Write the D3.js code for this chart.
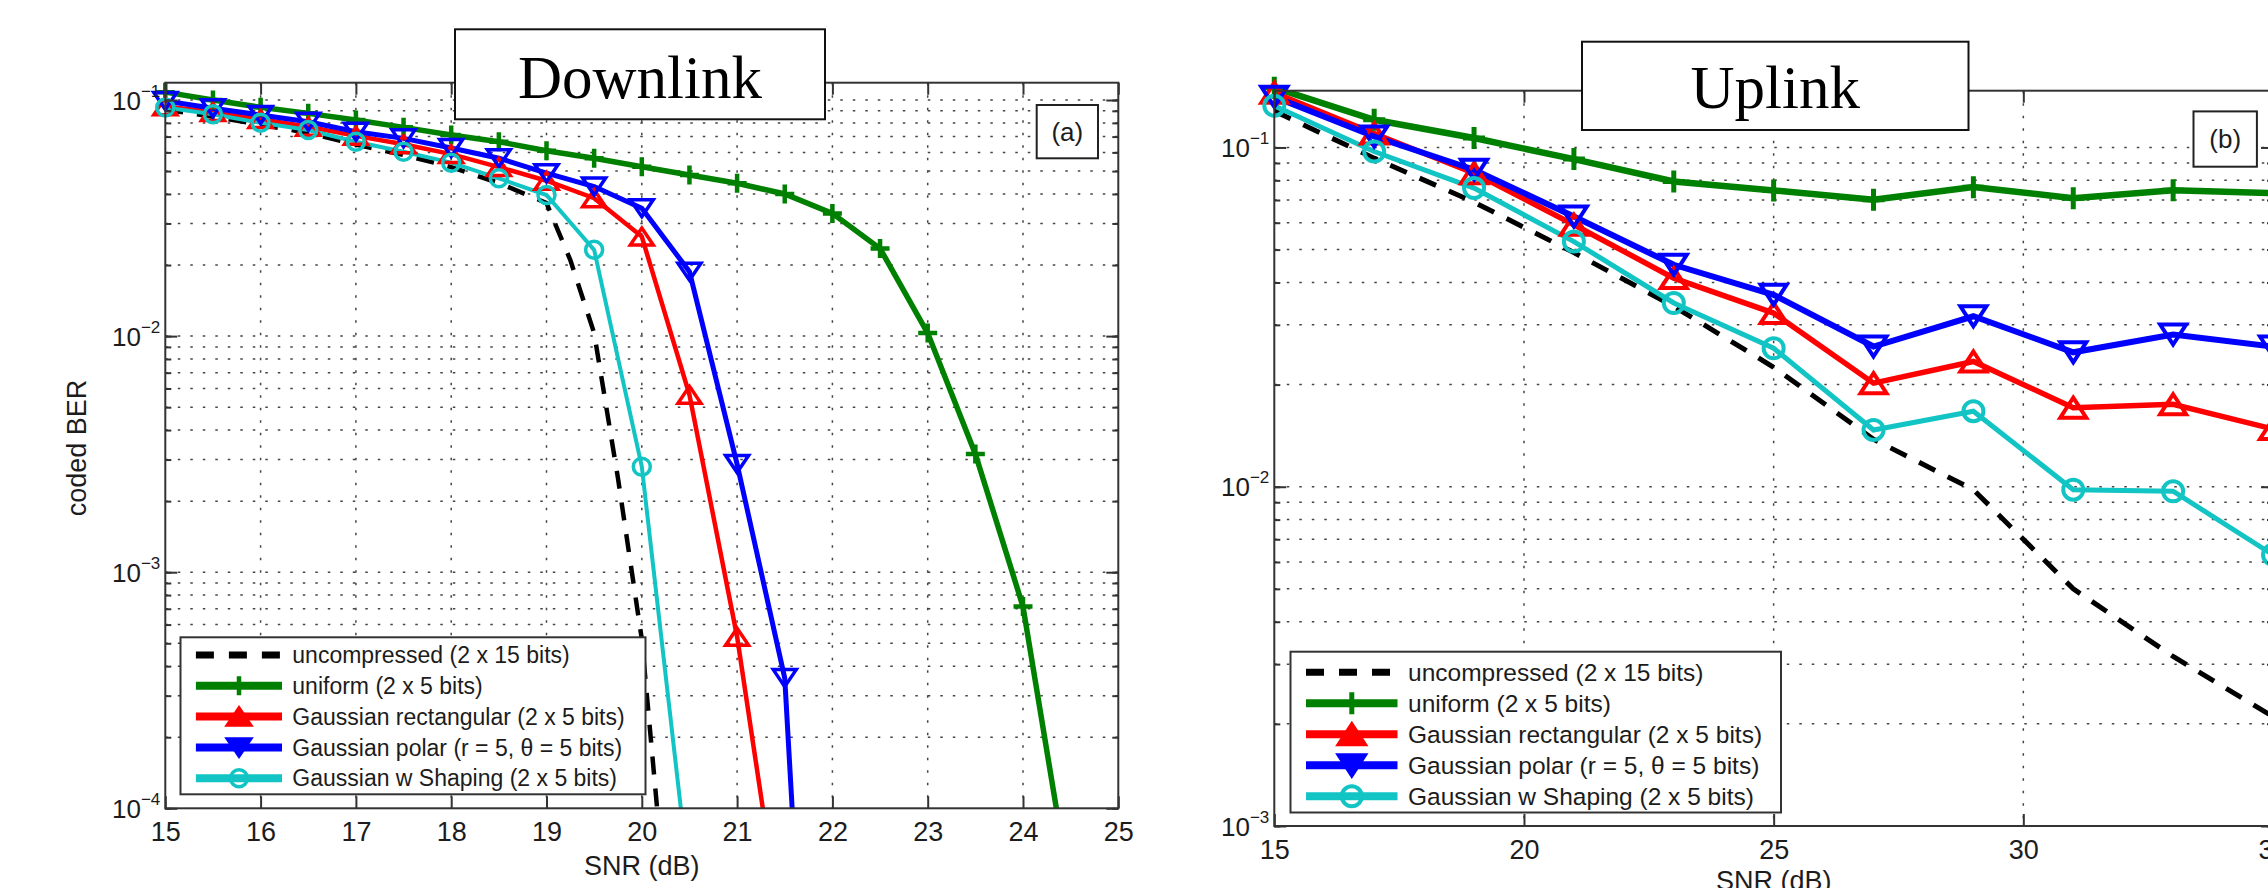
<!DOCTYPE html>
<html lang="en">
<head>
<meta charset="UTF-8">
<title>coded BER - downlink / uplink</title>
<style>
  html, body { margin: 0; padding: 0; background: #fff; overflow: hidden; }
  svg { display: block; }
  text { font-family: "Liberation Sans", Arial, Helvetica, sans-serif; fill: #1c1c1c; }
  text.title { font-family: "Liberation Serif", "Times New Roman", serif; fill: #000; }
</style>
</head>
<body>
<script src="https://d3js.org/d3.v7.min.js"></script>
<script>
// legend names, same order for both panels
var names = ["uncompressed (2 x 15 bits)", "uniform (2 x 5 bits)", "Gaussian rectangular (2 x 5 bits)",
             "Gaussian polar (r = 5, \u03b8 = 5 bits)", "Gaussian w Shaping (2 x 5 bits)"];

// (a) downlink, SNR in dB
var dlSnr = [15, 15.5, 16, 16.5, 17, 17.5, 18, 18.5, 19, 19.5, 20, 20.5, 21, 21.5, 22, 22.5, 23, 23.5, 24, 24.5];
var dlRefSnr = [15, 15.5, 16, 16.5, 17, 17.5, 18, 18.5, 19, 19.25, 19.5, 19.75, 20, 20.25];
var dlUncompressed = [0.091, 0.085, 0.0785, 0.0725, 0.0648, 0.0585, 0.052, 0.0445, 0.0366, 0.021, 0.0103, 0.0025, 0.00052, 0.00004];
var dlUniform = [0.108, 0.100, 0.0931, 0.0878, 0.0823, 0.0766, 0.0711, 0.0666, 0.0610, 0.0567, 0.0522, 0.0481, 0.0444, 0.0400, 0.0331, 0.0235, 0.0103, 0.00317, 0.000715, 0.000043];
var dlRect = [0.094, 0.089, 0.083, 0.077, 0.0705, 0.065, 0.059, 0.052, 0.0455, 0.0384, 0.0264, 0.00564, 0.000533, 0.000024];
var dlPolar = [0.099, 0.0922, 0.0864, 0.0809, 0.0734, 0.0688, 0.0626, 0.0567, 0.049, 0.043, 0.0348, 0.01875, 0.00287, 0.000356, 0.0000001];
var dlShaping = [0.093, 0.087, 0.0801, 0.0746, 0.0666, 0.0604, 0.0543, 0.0466, 0.0396, 0.0232, 0.0028, 0.000048];
var dlTicks = [15, 16, 17, 18, 19, 20, 21, 22, 23, 24, 25];

// (b) uplink
var ulSnr = [15, 17, 19, 21, 23, 25, 27, 29, 31, 33, 35];
var ulUncompressed = [0.128, 0.093, 0.069, 0.049, 0.034, 0.0225, 0.0138, 0.0098, 0.0050, 0.00316, 0.0021];
var ulUniform = [0.150, 0.1207, 0.1066, 0.0924, 0.0794, 0.0747, 0.0701, 0.0764, 0.0709, 0.0748, 0.0734];
var ulRect = [0.145, 0.110, 0.084, 0.0592, 0.0412, 0.0325, 0.0202, 0.0234, 0.0171, 0.0175, 0.0148];
var ulPolar = [0.141, 0.1077, 0.086, 0.0626, 0.0451, 0.0368, 0.0259, 0.0318, 0.0249, 0.0281, 0.0259];
var ulShaping = [0.1328, 0.0973, 0.0759, 0.0528, 0.0348, 0.0256, 0.0147, 0.0167, 0.0098, 0.0097, 0.0063];
var ulTicks = [15, 20, 25, 30, 35];

var width = 2268, height = 888;
var svg = d3.select("body").append("svg").attr("width", width).attr("height", height);

var colors = ["#000000", "#008000", "#ff0000", "#0000ff", "#12c4c4"];
var markers = [null, "plus", "up", "down", "circle"];

function zip(xs, ys) {
    var out = [];
    for (var i = 0; i < Math.min(xs.length, ys.length); i++) out.push([xs[i], ys[i]]);
    return out;
}

function logTicks(dom, majorOnly) {
    var t = [];
    for (var e = Math.floor(Math.log10(dom[0])); e <= Math.ceil(Math.log10(dom[1])); e++) {
        for (var m = 1; m <= 9; m++) {
            if (majorOnly && m > 1) continue;
            var v = m * Math.pow(10, e);
            if (v >= dom[0] * 0.999 && v <= dom[1]) t.push(v);
        }
    }
    return t;
}

function drawMarker(g, type, cx, cy, color, s, filled) {
    if (type == "plus") {
        g.append("path").attr("d", "M" + (cx - s.p) + "," + cy + "H" + (cx + s.p) + "M" + cx + "," + (cy - s.p) + "V" + (cy + s.p))
            .attr("stroke", color).attr("stroke-width", s.psw).attr("fill", "none");
    } else if (type == "circle") {
        g.append("circle").attr("cx", cx).attr("cy", cy).attr("r", s.r)
            .attr("stroke", color).attr("stroke-width", s.sw).attr("fill", "none");
    } else if (type == "up" || type == "down") {
        var k = type == "up" ? 1 : -1;
        var d = "M" + cx + "," + (cy - k * s.th / 2) + "L" + (cx + s.tw / 2) + "," + (cy + k * s.th / 2) +
                "L" + (cx - s.tw / 2) + "," + (cy + k * s.th / 2) + "Z";
        g.append("path").attr("d", d).attr("stroke", color).attr("stroke-width", s.sw)
            .attr("fill", filled ? color : "none").attr("stroke-linejoin", "miter");
    }
}

function panel(p) {
    var x = d3.scaleLinear().domain(p.xDom).range([p.left, p.right]);
    var y = d3.scaleLog().domain(p.yDom).range([p.bottom, p.top]);
    var g = svg.append("g");

    var clipId = "clip-" + p.id;
    svg.append("clipPath").attr("id", clipId).append("rect")
        .attr("x", p.left).attr("y", p.top).attr("width", p.right - p.left).attr("height", p.bottom - p.top);

    // dotted grid
    var grid = g.append("g").attr("stroke", "#444").attr("stroke-width", 1.5).attr("stroke-dasharray", "2.5,10");
    grid.selectAll("line.h").data(logTicks(p.yDom).filter(function (v) { return y(v) > p.top + 2 && y(v) < p.bottom - 2; }))
        .enter().append("line").attr("class", "h")
        .attr("x1", p.left).attr("x2", p.right).attr("y1", function (d) { return y(d); }).attr("y2", function (d) { return y(d); });
    grid.selectAll("line.v").data(p.xTicks.slice(1, -1))
        .enter().append("line").attr("class", "v")
        .attr("y1", p.top).attr("y2", p.bottom).attr("x1", function (d) { return x(d); }).attr("x2", function (d) { return x(d); });

    // curves
    var line = d3.line().x(function (d) { return x(d[0]); }).y(function (d) { return y(d[1]); });
    var lines = g.append("g").attr("clip-path", "url(#" + clipId + ")");
    var mk = g.append("g");
    p.series.forEach(function (s, i) {
        var pts = zip(s.snr, s.val);
        lines.append("path").attr("d", line(pts)).attr("fill", "none")
            .attr("stroke", colors[i]).attr("stroke-width", p.lw[i])
            .attr("stroke-dasharray", i == 0 ? "18,14" : null);
        if (!markers[i]) return;
        pts.forEach(function (d) {
            if (d[1] < p.yDom[0] || d[0] > p.xDom[1]) return;
            drawMarker(mk, markers[i], x(d[0]), y(d[1]), colors[i], p.ms, false);
        });
    });

    // axes, ticks pointing inward
    var ax = g.append("g").attr("class", "axes");
    var bottom = ax.append("g").attr("transform", "translate(0," + p.bottom + ")")
        .call(d3.axisBottom(x).tickValues(p.xTicks).tickSizeInner(-12).tickSizeOuter(0).tickPadding(14).tickFormat(d3.format("d")));
    bottom.selectAll("text").attr("font-size", 27);
    ax.append("g").attr("transform", "translate(0," + p.top + ")")
        .call(d3.axisTop(x).tickValues(p.xTicks).tickSizeInner(-12).tickSizeOuter(0).tickFormat(""));
    [[d3.axisLeft, p.left], [d3.axisRight, p.right]].forEach(function (a) {
        ax.append("g").attr("transform", "translate(" + a[1] + ",0)")
            .call(a[0](y).tickValues(logTicks(p.yDom)).tickSizeInner(-6).tickSizeOuter(0).tickFormat(""));
        ax.append("g").attr("transform", "translate(" + a[1] + ",0)")
            .call(a[0](y).tickValues(logTicks(p.yDom, true)).tickSizeInner(-12).tickSizeOuter(0).tickFormat(""));
    });
    ax.selectAll(".domain").remove();
    ax.selectAll(".tick line").attr("stroke", "#333").attr("stroke-width", 2);
    ax.append("rect").attr("x", p.left).attr("y", p.top).attr("width", p.right - p.left).attr("height", p.bottom - p.top)
        .attr("fill", "none").attr("stroke", "#333").attr("stroke-width", 2);

    // 10^k labels
    logTicks(p.yDom, true).forEach(function (v) {
        var t = g.append("text").attr("x", p.left - 5).attr("y", y(v) + 9.5).attr("text-anchor", "end").attr("font-size", 26);
        t.append("tspan").text("10");
        t.append("tspan").attr("dy", -13).attr("font-size", 17).text("\u2212" + (-Math.round(Math.log10(v))));
    });

    g.append("text").attr("x", (p.left + p.right) / 2).attr("y", p.xTitleY).attr("text-anchor", "middle")
        .attr("font-size", 27).text("SNR (dB)");
    if (p.yTitle) {
        g.append("text").attr("transform", "translate(" + p.yTitle[0] + "," + p.yTitle[1] + ") rotate(-90)")
            .attr("text-anchor", "middle").attr("font-size", 27).text("coded BER");
    }

    // legend
    var L = p.legend;
    var lg = g.append("g");
    lg.append("rect").attr("x", L.x).attr("y", L.y).attr("width", L.w).attr("height", L.h)
        .attr("fill", "#fff").attr("stroke", "#333").attr("stroke-width", 2);
    names.forEach(function (n, i) {
        var cy = L.y + L.row0 + i * L.step;
        lg.append("line").attr("x1", L.x + L.s0).attr("x2", L.x + L.s1).attr("y1", cy).attr("y2", cy)
            .attr("stroke", colors[i]).attr("stroke-width", i == 0 ? 7 : 8)
            .attr("stroke-dasharray", i == 0 ? "18,15" : null);
        if (markers[i]) drawMarker(lg, markers[i], L.x + L.m, cy, colors[i], p.ms, true);
        lg.append("text").attr("x", L.x + L.t).attr("y", cy).attr("dy", "0.36em").attr("font-size", L.font).text(n);
    });

    // (a)/(b) tag
    g.append("rect").attr("x", p.tag.x).attr("y", p.tag.y).attr("width", p.tag.w).attr("height", p.tag.h)
        .attr("fill", "#fff").attr("stroke", "#222").attr("stroke-width", 2);
    g.append("text").attr("x", p.tag.x + p.tag.w / 2).attr("y", p.tag.y + p.tag.h / 2).attr("dy", "0.36em")
        .attr("text-anchor", "middle").attr("font-size", 26).text(p.tag.label);

    // title box over the top edge
    g.append("rect").attr("x", p.title.x).attr("y", p.title.y).attr("width", p.title.w).attr("height", p.title.h)
        .attr("fill", "#fff").attr("stroke", "#111").attr("stroke-width", 2);
    g.append("text").attr("class", "title").attr("x", p.title.x + p.title.w / 2).attr("y", p.title.base)
        .attr("text-anchor", "middle").attr("font-size", 61).text(p.title.label);
}

panel({
    id: "a", left: 165.3, right: 1118.3, top: 82.7, bottom: 808.3,
    xDom: [15, 25], yDom: [1e-4, 0.1184], xTicks: dlTicks,
    series: [
        { snr: dlRefSnr, val: dlUncompressed },
        { snr: dlSnr, val: dlUniform },
        { snr: dlSnr, val: dlRect },
        { snr: dlSnr, val: dlPolar },
        { snr: dlSnr, val: dlShaping }
    ],
    lw: [4.5, 5.5, 4.5, 5, 4],
    ms: { tw: 23, th: 17, sw: 3.5, r: 8.5, p: 9.5, psw: 4.5 },
    xTitleY: 875, yTitle: [86, 448],
    legend: { x: 180.5, y: 637.3, w: 465, h: 157, row0: 17.7, step: 30.8, s0: 15.4, s1: 101.5, m: 58.5, t: 111.8, font: 23 },
    tag: { x: 1036.7, y: 105, w: 61.3, h: 53.3, label: "(a)" },
    title: { x: 455, y: 29.3, w: 370, h: 90, base: 98.3, label: "Downlink" }
});

panel({
    id: "b", left: 1274.3, right: 2273, top: 90.7, bottom: 826,
    xDom: [15, 35], yDom: [1e-3, 0.147], xTicks: ulTicks,
    series: [
        { snr: ulSnr, val: ulUncompressed },
        { snr: ulSnr, val: ulUniform },
        { snr: ulSnr, val: ulRect },
        { snr: ulSnr, val: ulPolar },
        { snr: ulSnr, val: ulShaping }
    ],
    lw: [5, 6.5, 5.5, 6, 5],
    ms: { tw: 26, th: 20, sw: 4, r: 10, p: 11, psw: 5 },
    xTitleY: 890, yTitle: null,
    legend: { x: 1290.5, y: 651.7, w: 490.5, h: 160.8, row0: 20.6, step: 31, s0: 15.5, s1: 107, m: 61.3, t: 117.5, font: 24.5 },
    tag: { x: 2193.5, y: 111.4, w: 63.4, h: 55.3, label: "(b)" },
    title: { x: 1582, y: 41.7, w: 386.5, h: 88.3, base: 108.3, label: "Uplink" }
});
</script>
</body>
</html>
